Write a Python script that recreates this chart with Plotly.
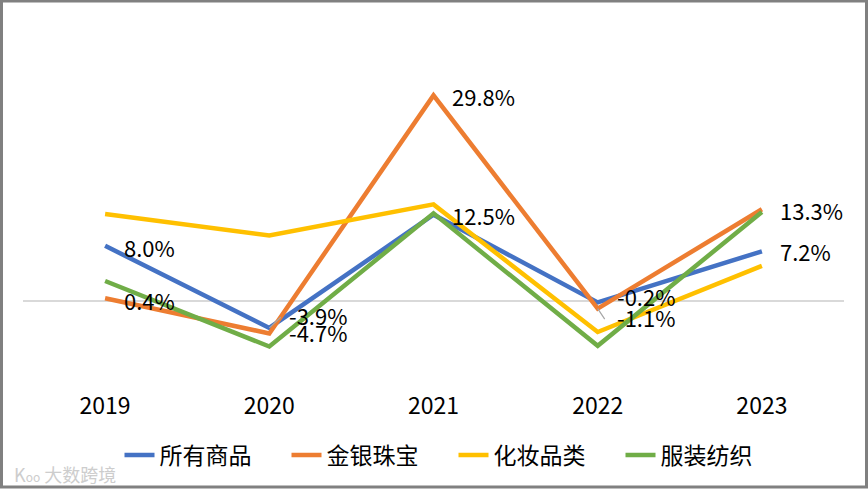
import plotly.graph_objects as go

years = ["2019", "2020", "2021", "2022", "2023"]
series_names = ["所有商品", "金银珠宝", "化妆品类", "服装纺织"]
all_goods = [8.0, -3.9, 12.5, -0.2, 7.2]
jewelry = [0.4, -4.7, 29.8, -1.1, 13.3]
cosmetics = [12.6, 9.5, 14.0, -4.5, 5.1]
apparel = [2.9, -6.6, 12.7, -6.5, 12.9]
colors = ["#4472C4", "#ED7D31", "#FFC000", "#70AD47"]

FONT = "Noto Sans CJK SC"
fig = go.Figure()
for name, vals, col in zip(series_names, [all_goods, jewelry, cosmetics, apparel], colors):
    fig.add_trace(go.Scatter(x=years, y=vals, mode="lines", name=name,
                             line=dict(color=col, width=4.5), hoverinfo="skip"))

# data labels (series, index, xshift, yshift)
label_specs = [
    (all_goods, 0, 17, -1), (all_goods, 1, 18, 13), (all_goods, 2, 16, 0),
    (all_goods, 3, 17, 6), (all_goods, 4, 16, 0),
    (jewelry, 0, 17, -2), (jewelry, 1, 18, 1), (jewelry, 2, 16, -1),
    (jewelry, 3, 17, -8), (jewelry, 4, 16, -1),
]
for vals, i, xs, ys in label_specs:
    fig.add_annotation(x=i, y=vals[i], xref="x", yref="y", text=f"{vals[i]:.1f}%", showarrow=False,
                       xanchor="left", yanchor="middle", xshift=xs, yshift=ys,
                       font=dict(family=FONT, size=22, color="#000000"))

# leader lines for the crowded labels (point -> label)
for vals, i, ax, ay in [(all_goods, 1, 13, -12), (jewelry, 3, 8, 12)]:
    fig.add_annotation(x=i, y=vals[i], xref="x", yref="y", text="", showarrow=True,
                       arrowhead=0, arrowwidth=1.2, arrowcolor="#A6A6A6", ax=ax, ay=ay,
                       standoff=0, startstandoff=0)

L, R, T, B = 23, 24, 25, 119
W, H = 868, 489
pw, ph = W - L - R, H - T - B

# watermark
fig.add_annotation(xref="paper", yref="paper", x=-(L - 12) / pw, y=-(474 - T - ph) / ph,
                   text="K<span style='font-size:12px'>oo</span> 大数跨境", showarrow=False,
                   xanchor="left", yanchor="middle",
                   font=dict(family=FONT, size=18, color="#CDCDCD"))

# outer border
fig.add_shape(type="rect", xref="paper", yref="paper",
              x0=-(L - 1.5) / pw, x1=1 + (R - 1.5) / pw, y0=-(B - 2) / ph, y1=1 + (T - 1) / ph,
              line=dict(color="#808080", width=3), layer="below")

fig.update_layout(
    width=W, height=H, margin=dict(l=L, r=R, t=T, b=B, autoexpand=False),
    paper_bgcolor="white", plot_bgcolor="white",
    font=dict(family=FONT, size=22, color="#000000"),
    showlegend=True,
    legend=dict(orientation="h", x=0.5 + 20 / pw, xanchor="center", y=-(455 - T - ph) / ph,
                yanchor="middle", font=dict(family=FONT, size=23), itemwidth=30,
                traceorder="normal", entrywidth=122, entrywidthmode="pixels"),
    xaxis=dict(type="category", range=[-0.5, 4.5], showgrid=False, zeroline=False, showline=False,
               ticks="outside", ticklen=15, tickcolor="rgba(0,0,0,0)",
               tickfont=dict(family=FONT, size=23, color="#000000"), fixedrange=True),
    yaxis=dict(range=[-10, 40], showgrid=False, zeroline=True, zerolinecolor="#D9D9D9",
               zerolinewidth=1.5, showticklabels=False, showline=False, fixedrange=True),
)
fig.write_html("out.html", config={"displayModeBar": False},
               post_script="document.body.style.margin='0';document.body.style.padding='0';")
